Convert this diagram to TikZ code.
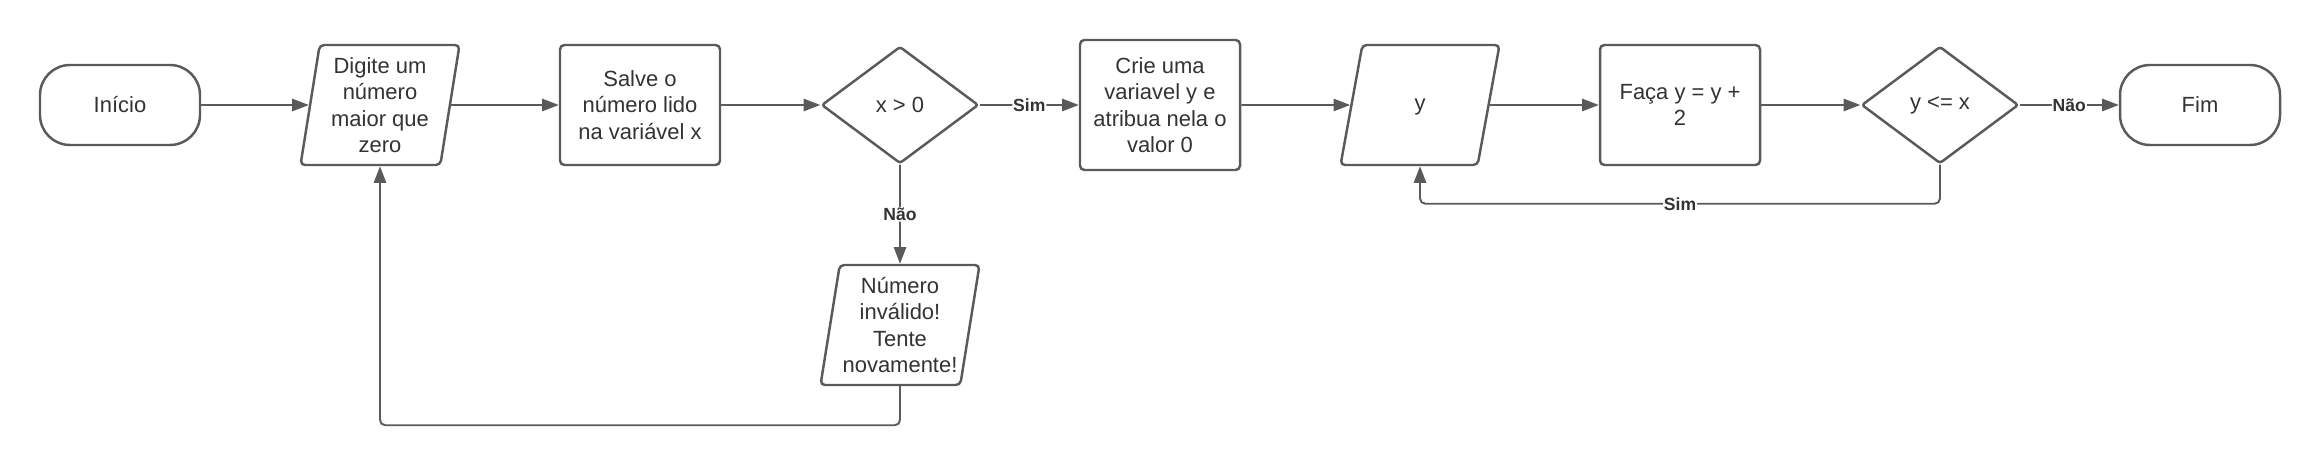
\documentclass[tikz,border=0pt]{standalone}
\usepackage{fontspec}
\setmainfont{Liberation Sans}
\usepackage{xcolor}
\usepackage{tikz}
\usetikzlibrary{shapes.geometric, arrows.meta, positioning}
\definecolor{linegray}{HTML}{5A5A5A}
\definecolor{textgray}{HTML}{333333}

\begin{document}
\begin{tikzpicture}[
    node distance=5.2cm, on grid,
    base/.style={draw=linegray, line width=1.4pt, fill=white, text=textgray, align=center, inner sep=1pt, font=\fontsize{12.5}{15}\selectfont},
    terminal/.style={base, rectangle, rounded corners=0.6cm, minimum width=3.2cm, minimum height=1.6cm},
    process/.style={base, rectangle, rounded corners=2.5pt, minimum width=3.2cm, minimum height=2.4cm},
    io/.style={base, trapezium, trapezium left angle=79, trapezium right angle=101, trapezium stretches body, minimum width=3.18cm, minimum height=2.4cm, rounded corners=2.5pt},
    decision/.style={base, diamond, minimum width=3.14cm, minimum height=2.34cm, inner sep=0pt, rounded corners=1.5pt},
    arr/.style={-{Triangle[length=9.5pt, width=7pt]}, draw=linegray, line width=1.1pt, rounded corners=3pt},
    lbl/.style={fill=white, inner sep=0.5pt, text=textgray, font=\fontsize{10}{11}\selectfont\bfseries},
]
    \useasboundingbox (0,0) rectangle (46.4,-9.36);

    \node[terminal] (inicio) at (2.4,-2.1) {Início};
    \node[io, right=of inicio] (digite) {Digite um\\número\\maior que\\zero};
    \node[process, right=of digite] (salva) {Salve o\\número lido\\na variável x};
    \node[decision, right=of salva] (testex) {x > 0};
    \node[process, minimum height=2.6cm, right=of testex] (criay) {Crie uma\\variavel y e\\atribua nela o\\valor 0};
    \node[io, text height=1.2cm, text depth=0.98cm, right=of criay] (mostray) {y};
    \node[process, right=of mostray] (somay) {Faça y = y +\\2};
    \node[decision, right=of somay] (testey) {y <= x};
    \node[terminal, right=of testey] (fim) {Fim};
    \node[io, below=4.4cm of testex] (invalido) {Número\\inválido!\\Tente\\novamente!};

    \draw[arr] (inicio) -- (digite);
    \draw[arr] (digite) -- (salva);
    \draw[arr] (salva) -- (testex);
    \draw[arr] (testex) -- node[lbl] {Sim} (criay);
    \draw[arr] (testex) -- node[lbl] {Não} (invalido);
    \draw[arr] (criay) -- (mostray);
    \draw[arr] (mostray) -- (somay);
    \draw[arr] (somay) -- (testey);
    \draw[arr] (testey) -- node[lbl] {Não} (fim);
    % voltas
    \draw[arr] (invalido.center |- invalido.south) -- ++(0,-0.78) coordinate (voltax) -- (voltax -| digite.center) -- (digite.center |- digite.south);
    \draw[arr] (testey.south) -- ++(0,-0.78) coordinate (voltay) -- node[lbl] {Sim} (voltay -| mostray.center) -- (mostray.center |- mostray.south);
\end{tikzpicture}
\end{document}
